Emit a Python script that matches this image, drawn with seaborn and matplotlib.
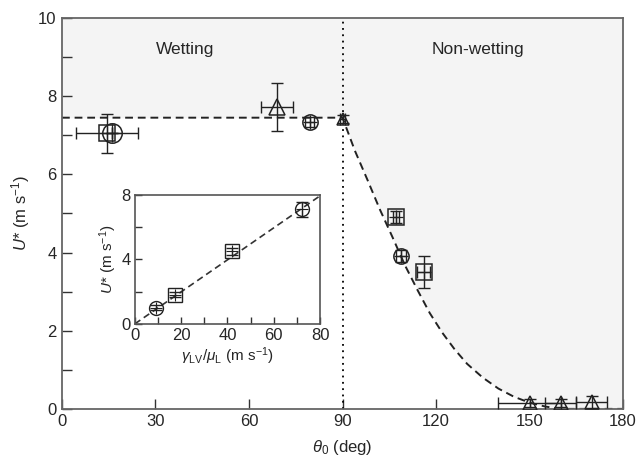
import numpy as np
import pandas as pd
import matplotlib
matplotlib.use("Agg")
import matplotlib.pyplot as plt
import seaborn as sns

# dashed guide curve, main panel
curve_theta = [0, 90, 94, 98, 102, 106, 110, 114, 118, 122, 126, 130, 135,
               140, 145, 150, 155, 160, 180]
curve_u = [7.45, 7.45, 6.6, 5.86, 5.1, 4.4, 3.68, 3.05, 2.45, 1.95, 1.52, 1.15,
           0.8, 0.52, 0.31, 0.16, 0.06, 0.0, 0.0]

# measured points, main panel
pt_theta = [14.5, 16.0, 69.0, 79.5, 90.0, 107.2, 108.8, 116.0, 150.0, 160.0, 170.0]
pt_u = [7.05, 7.05, 7.72, 7.34, 7.42, 4.90, 3.92, 3.50, 0.15, 0.15, 0.17]
pt_shape = ["square", "circle", "triangle", "circle", "triangle", "square",
            "circle", "square", "triangle", "triangle", "triangle"]
pt_size = [11, 14, 11, 11, 9, 11, 11, 11, 10, 10, 10]
pt_xerr = [10.0, 0.0, 5.0, 1.5, 0.8, 1.0, 1.5, 2.0, 10.0, 5.0, 5.0]
pt_yerr = [0.5, 0.0, 0.62, 0.12, 0.1, 0.15, 0.15, 0.4, 0.1, 0.1, 0.15]

# inset: U* against gamma_LV / mu_L
ins_x = [9.0, 17.5, 42.0, 72.0]
ins_u = [1.0, 1.8, 4.5, 7.1]
ins_shape = ["circle", "square", "square", "circle"]
ins_yerr = [0.15, 0.15, 0.2, 0.45]
ins_line_x = [0, 80]
ins_line_u = [0, 7.95]

sns.set_theme(style="ticks")
plt.rcParams["font.family"] = ["Liberation Sans Narrow", "Liberation Sans", "DejaVu Sans"]
plt.rcParams["mathtext.fontset"] = "custom"
plt.rcParams["mathtext.rm"] = "Liberation Sans"
plt.rcParams["mathtext.it"] = "Liberation Sans:italic"

markers = {"square": "s", "circle": "o", "triangle": "^"}

fig = plt.figure(figsize=(6.39, 4.62), dpi=100)
ax = fig.add_axes([0.097, 0.115, 0.878, 0.846])

ax.fill_between(curve_theta, curve_u, 10, color="#f4f4f4", lw=0, zorder=0)
ax.axvline(90, color="black", ls=(0, (1, 2.5)), lw=1.3, zorder=1)
sns.lineplot(x=curve_theta, y=curve_u, ax=ax, color="#222222", lw=1.4,
             linestyle=(0, (4, 2.5)), zorder=2)

ax.errorbar(pt_theta, pt_u, xerr=pt_xerr, yerr=pt_yerr, fmt="none",
            ecolor="#222222", elinewidth=1.0, capsize=4, zorder=3)
main_df = pd.DataFrame({"theta": pt_theta, "u": pt_u, "shape": pt_shape, "size": pt_size})
for shape, grp in main_df.groupby("shape"):
    for _, r in grp.iterrows():
        ax.plot(r["theta"], r["u"], marker=markers[shape], ms=r["size"],
                mfc="none", mec="#222222", mew=1.1, ls="none", zorder=4)
        if shape != "triangle":
            ax.plot(r["theta"], r["u"], marker="+", ms=r["size"] * 0.9,
                    mec="#222222", mew=0.9, ls="none", zorder=4)

ax.set_xlim(0, 180)
ax.set_ylim(0, 10)
ax.set_xticks(range(0, 181, 30))
ax.set_yticks(range(0, 11, 2))
ax.set_yticks(range(1, 10, 2), minor=True)
ax.tick_params(which="both", direction="in", length=7, width=1, labelsize=12,
               color="#333333", pad=4)
for s in ax.spines.values():
    s.set_color("#666666")
    s.set_linewidth(1.3)
ax.set_xlabel(r"$\mathit{\theta}_0$ (deg)", fontsize=12, labelpad=6)
ax.set_ylabel(r"$\mathit{U}$* (m s$^{-1}$)", fontsize=12, labelpad=4)
ax.text(39.5, 9.2, "Wetting", ha="center", va="center", fontsize=12.5)
ax.text(133.5, 9.2, "Non-wetting", ha="center", va="center", fontsize=12.5)

# inset
axi = fig.add_axes([0.211, 0.299, 0.290, 0.279])
axi.set_facecolor("white")
sns.lineplot(x=ins_line_x, y=ins_line_u, ax=axi, color="#333333", lw=1.2,
             linestyle=(0, (4, 2.5)), zorder=2)
axi.errorbar(ins_x, ins_u, yerr=ins_yerr, fmt="none", ecolor="#222222",
             elinewidth=1.0, capsize=4, zorder=3)
for xv, uv, shape in zip(ins_x, ins_u, ins_shape):
    axi.plot(xv, uv, marker=markers[shape], ms=10, mfc="none", mec="#222222",
             mew=1.0, ls="none", zorder=4)
    axi.plot(xv, uv, marker="+", ms=8, mec="#222222", mew=0.8, ls="none", zorder=4)
axi.set_xlim(0, 80)
axi.set_ylim(0, 8)
axi.set_xticks(range(0, 81, 20))
axi.set_xticks(range(10, 80, 20), minor=True)
axi.set_yticks([0, 4, 8])
axi.set_yticks([2, 6], minor=True)
axi.tick_params(which="both", direction="in", length=5, width=1, labelsize=12,
                color="#333333", pad=3)
for s in axi.spines.values():
    s.set_color("#555555")
    s.set_linewidth(1.2)
axi.set_xlabel(r"$\mathit{\gamma}_{\rm LV}/\mathit{\mu}_{\rm L}$ (m s$^{-1}$)", fontsize=11, labelpad=2)
axi.set_ylabel(r"$\mathit{U}$* (m s$^{-1}$)", fontsize=11, labelpad=2)

fig.savefig("out.png", dpi=100)
